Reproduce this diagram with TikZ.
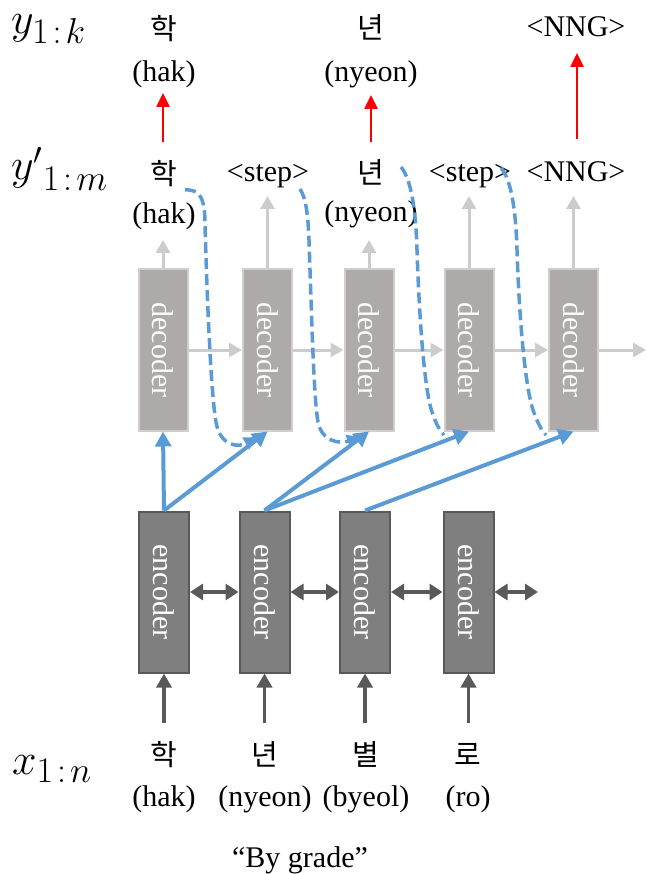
\RequirePackage{fix-cm}
\documentclass[tikz,border=0pt]{standalone}
\usepackage{fontspec}
\usepackage{graphicx}
\setmainfont{Liberation Serif}
\newfontfamily\krfont{Noto Sans CJK KR}
\usetikzlibrary{arrows.meta}
\newcommand\seqsub[2]{\hbox{\fontsize{36}{38}\selectfont$#1\mkern2mu{:}\mkern2mu#2$}}

\definecolor{accblue}{HTML}{5B9BD5}
\definecolor{decfill}{HTML}{AEAAAA}
\definecolor{decline}{HTML}{D0CECE}
\definecolor{encfill}{HTML}{7F7F7F}
\definecolor{encline}{HTML}{595959}
\definecolor{lightarrow}{HTML}{CCCCCC}
\definecolor{darkarrow}{HTML}{595959}

\begin{document}
\begin{tikzpicture}[x=1pt,y=-1pt,
  lbl/.style={font=\fontsize{30}{32}\selectfont, inner sep=0pt, anchor=base},
  kr/.style={font=\krfont\fontsize{29}{31}\selectfont, inner sep=0pt, anchor=base},
  sym/.style={font=\fontsize{44}{48}\selectfont, inner sep=0pt, anchor=base west},
  decbox/.style={draw=decline, line width=2pt, fill=decfill, minimum width=49pt,
    minimum height=161pt, inner sep=0pt, text=white!95!decfill, font=\fontsize{30}{32}\selectfont},
  encbox/.style={draw=encline, line width=2pt, fill=encfill, minimum width=50pt,
    minimum height=161pt, inner sep=0pt, text=white, font=\fontsize{30}{32}\selectfont},
  redarr/.style={draw=red, line width=2.5pt, -{Triangle[length=14pt,width=13pt]}},
  outarr/.style={draw=lightarrow, line width=3pt, -{Triangle[length=13pt,width=14pt]}},
  recarr/.style={draw=lightarrow, line width=3pt, -{Triangle[length=13pt,width=14pt]}},
  bidarr/.style={draw=darkarrow, line width=4pt, {Triangle[length=13pt,width=16pt]}-{Triangle[length=13pt,width=16pt]}},
  inarr/.style={draw=darkarrow, line width=3.5pt, -{Triangle[length=14pt,width=15pt]}},
  attarr/.style={draw=accblue, line width=4pt, -{Triangle[length=15pt,width=16pt]}},
  dsh/.style={draw=accblue, line width=3.5pt, dash pattern=on 11pt off 5pt}
]
\useasboundingbox (0,0) rectangle (646,874);

% sequence labels
\node[sym] (ylab) at (11,34) {$y_{\seqsub{1}{k}}$};
\node[sym] (yplab) at (11,180) {${y'}_{\seqsub{1}{m}}$};
\node[sym] (xlab) at (12,774) {$x_{\seqsub{1}{n}}$};

% final output sequence
\node[kr]  (o1k) at (164,40) {학};
\node[lbl] (o1r) at (164,82) {(hak)};
\node[kr]  (o3k) at (371,39) {년};
\node[lbl] (o3r) at (371,82) {(nyeon)};
\node[lbl] (o5)  at (576,37) {<NNG>};

% decoder output sequence
\node[kr]  (p1k) at (164,185) {학};
\node[lbl] (p1r) at (164,224) {(hak)};
\node[lbl] (p2)  at (268,182) {<step>};
\node[kr]  (p3k) at (371,184) {년};
\node[lbl] (p3r) at (371,222) {(nyeon)};
\node[lbl] (p4)  at (470,182) {<step>};
\node[lbl] (p5)  at (576,182) {<NNG>};

% input sequence
\node[kr]  (i1k) at (164,765) {학};
\node[lbl] (i1r) at (164,806) {(hak)};
\node[kr]  (i2k) at (265,765) {년};
\node[lbl] (i2r) at (265,806) {(nyeon)};
\node[kr]  (i3k) at (366,765) {별};
\node[lbl] (i3r) at (366,806) {(byeol)};
\node[kr]  (i4k) at (468,765) {로};
\node[lbl] (i4r) at (468,806) {(ro)};
\node[lbl] (cap) at (300,867) {“By grade”};

% decoder cells
\node[decbox] (dec1) at (163,350) {\rotatebox[origin=c]{-90}{decoder}};
\node[decbox] (dec2) at (267.5,350) {\rotatebox[origin=c]{-90}{decoder}};
\node[decbox] (dec3) at (369,350) {\rotatebox[origin=c]{-90}{decoder}};
\node[decbox] (dec4) at (469,350) {\rotatebox[origin=c]{-90}{decoder}};
\node[decbox] (dec5) at (573.5,350) {\rotatebox[origin=c]{-90}{decoder}};

% encoder cells
\node[encbox] (enc1) at (164,592) {\rotatebox[origin=c]{-90}{encoder}};
\node[encbox] (enc2) at (264.5,592) {\rotatebox[origin=c]{-90}{encoder}};
\node[encbox] (enc3) at (365,592) {\rotatebox[origin=c]{-90}{encoder}};
\node[encbox] (enc4) at (468.5,592) {\rotatebox[origin=c]{-90}{encoder}};

% arrow end points
\coordinate (r1a) at (163,142); \coordinate (r1b) at (163,93);
\coordinate (r3a) at (371,142); \coordinate (r3b) at (371,95);
\coordinate (r5a) at (577,139); \coordinate (r5b) at (577,53);
\coordinate (u1) at (163,240);
\coordinate (u2) at (267.5,196);
\coordinate (u3) at (369,240);
\coordinate (u4) at (469,196);
\coordinate (u5) at (573.5,196);
\coordinate (recend) at (646,350);
\coordinate (bidend) at (538,592);
\coordinate (in1) at (164,723);
\coordinate (in2) at (264.5,723);
\coordinate (in3) at (365,723);
\coordinate (in4) at (468.5,723);

% selection arrows
\draw[redarr] (r1a) -- (r1b);
\draw[redarr] (r3a) -- (r3b);
\draw[redarr] (r5a) -- (r5b);

% decoder outputs
\foreach \i in {1,...,5} \draw[outarr] (dec\i.north) -- (u\i);

% recurrent links between decoder steps
\draw[recarr] (dec1.east) -- (dec2.west);
\draw[recarr] (dec2.east) -- (dec3.west);
\draw[recarr] (dec3.east) -- (dec4.west);
\draw[recarr] (dec4.east) -- (dec5.west);
\draw[recarr] (dec5.east) -- (recend);

% bidirectional encoder links
\draw[bidarr] (enc1.east) -- (enc2.west);
\draw[bidarr] (enc2.east) -- (enc3.west);
\draw[bidarr] (enc3.east) -- (enc4.west);
\draw[bidarr] (enc4.east) -- (bidend);

% encoder inputs
\foreach \i in {1,...,4} \draw[inarr] (in\i) -- (enc\i.south);

% feedback of previous outputs into the next decoder step
\coordinate (f1a) at (185,190); \coordinate (f1b) at (257,437);
\coordinate (f2a) at (300,189); \coordinate (f2b) at (360,437);
\coordinate (f3a) at (401,167); \coordinate (f3b) at (444,435);
\coordinate (f4a) at (501,168); \coordinate (f4b) at (546,435);
\draw[dsh, -{Triangle[length=13pt,width=13pt]}] (f1a) .. controls (200,189) and (205,198) .. (205,225)
  .. controls (208,330) and (212,400) .. (216,422)
  .. controls (220,446) and (238,448) .. (f1b);
\draw[dsh, -{Triangle[length=13pt,width=13pt]}] (f2a) .. controls (306,198) and (308,215) .. (309,240)
  .. controls (312,330) and (314,400) .. (318,422)
  .. controls (322,442) and (340,444) .. (f2b);
\draw[dsh] (f3a) .. controls (412,180) and (416,215) .. (417,250)
  .. controls (420,340) and (426,395) .. (432,412)
  .. controls (436,424) and (440,431) .. (f3b);
\draw[dsh] (f4a) .. controls (512,180) and (516,215) .. (517,250)
  .. controls (520,340) and (527,392) .. (533,410)
  .. controls (538,424) and (542,431) .. (f4b);

% attention links from encoder to decoder
\draw[attarr] (enc1.north) -- (dec1.south);
\draw[attarr] (enc1.north) -- (dec2.south);
\draw[attarr] (enc2.north) -- (dec3.south);
\draw[attarr] (enc2.north) -- (dec4.south);
\draw[attarr] (enc3.north) -- (dec5.south);
\end{tikzpicture}
\end{document}
